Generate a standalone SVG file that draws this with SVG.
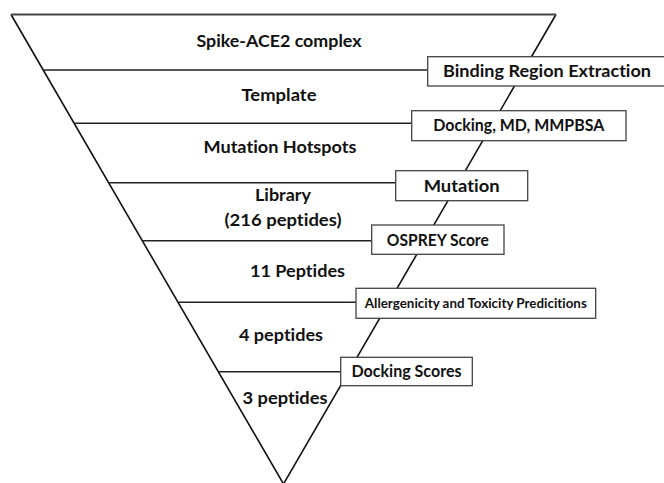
<svg xmlns="http://www.w3.org/2000/svg" width="664" height="483" viewBox="0 0 664 483">
<style>
.tri{fill:none;stroke:#111;stroke-width:1.6;stroke-linejoin:miter}
.top{stroke:#444;stroke-width:2}
.conn line{stroke:#222;stroke-width:1.6}
.box{fill:#fff;stroke:#444;stroke-width:1.3}
text{font-family:Lato,"Liberation Sans",sans-serif;font-weight:700;fill:#111;text-anchor:middle;font-variant-ligatures:none;font-feature-settings:"liga" 0}
.lbl{font-size:17px}
.small{font-size:12.5px}
</style>
<g id="funnel">
<line class="tri" x1="11" y1="14.5" x2="283.5" y2="484"/>
<line class="tri" x1="556" y1="14.5" x2="283.5" y2="484"/>
<line class="tri top" x1="11" y1="14.5" x2="556" y2="14.5"/>
</g>
<g id="connectors" class="conn">
<line x1="43.3" y1="70" x2="427.7" y2="70"/>
<line x1="74.3" y1="123.3" x2="411.7" y2="123.3"/>
<line x1="108.9" y1="182.7" x2="395.7" y2="182.7"/>
<line x1="142.6" y1="240.7" x2="371.7" y2="240.7"/>
<line x1="178.5" y1="302.3" x2="356" y2="302.3"/>
<line x1="218.9" y1="371.7" x2="340.7" y2="371.7"/>
</g>
<g id="stage-spike"><text class="lbl" x="279" y="47" textLength="165" lengthAdjust="spacingAndGlyphs">Spike-ACE2 complex</text></g>
<g id="stage-template"><text class="lbl" x="279" y="101" textLength="75" lengthAdjust="spacingAndGlyphs">Template</text></g>
<g id="stage-hotspots"><text class="lbl" x="280" y="153" textLength="153" lengthAdjust="spacingAndGlyphs">Mutation Hotspots</text></g>
<g id="stage-library"><text class="lbl" x="283" y="201" textLength="56" lengthAdjust="spacingAndGlyphs">Library</text><text class="lbl" x="283" y="226" textLength="117" lengthAdjust="spacingAndGlyphs">(216 peptides)</text></g>
<g id="stage-11"><text class="lbl" x="297.5" y="277" textLength="95" lengthAdjust="spacingAndGlyphs">11 Peptides</text></g>
<g id="stage-4"><text class="lbl" x="281" y="341" textLength="84" lengthAdjust="spacingAndGlyphs">4 peptides</text></g>
<g id="stage-3"><text class="lbl" x="285" y="404" textLength="85" lengthAdjust="spacingAndGlyphs">3 peptides</text></g>
<g id="box-binding"><rect class="box" x="427.7" y="56.7" width="240" height="29.3"/><text class="lbl" x="547" y="77" textLength="208" lengthAdjust="spacingAndGlyphs">Binding Region Extraction</text></g>
<g id="box-docking-md"><rect class="box" x="411.7" y="110.7" width="214.3" height="30"/><text class="lbl" x="518.8" y="131" textLength="171" lengthAdjust="spacingAndGlyphs">Docking, MD, MMPBSA</text></g>
<g id="box-mutation"><rect class="box" x="395.7" y="170.7" width="132" height="30"/><text class="lbl" x="461.7" y="192" textLength="76" lengthAdjust="spacingAndGlyphs">Mutation</text></g>
<g id="box-osprey"><rect class="box" x="371.7" y="225" width="132.3" height="29.3"/><text class="lbl" x="437.8" y="246" textLength="102" lengthAdjust="spacingAndGlyphs">OSPREY Score</text></g>
<g id="box-allergen"><rect class="box" x="356" y="288.3" width="239.7" height="30"/><text class="small" x="475.8" y="308" textLength="222" lengthAdjust="spacingAndGlyphs">Allergenicity and Toxicity Predicitions</text></g>
<g id="box-docking-scores"><rect class="box" x="340.7" y="357.3" width="131.6" height="28.4"/><text class="lbl" x="406.5" y="377" textLength="110" lengthAdjust="spacingAndGlyphs">Docking Scores</text></g>
</svg>
